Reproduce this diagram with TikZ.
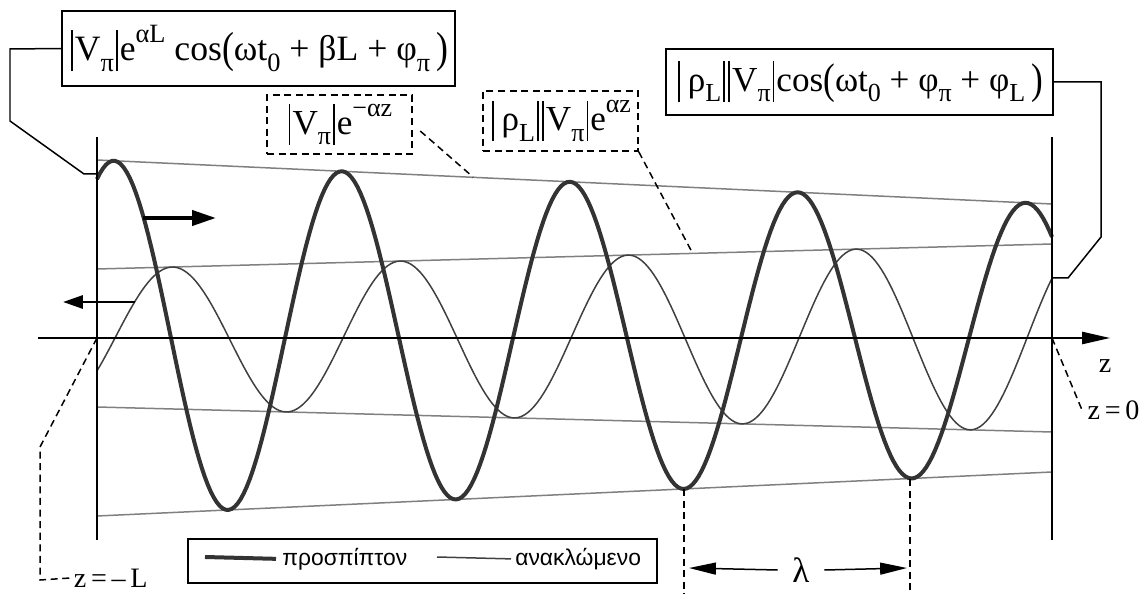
\documentclass[tikz,border=0pt]{standalone}
\usepackage{fontspec}
\usepackage{graphicx}
\setmainfont{Liberation Serif}
\newfontfamily\legendfont{Liberation Sans}
\usetikzlibrary{arrows.meta}

% tall bars, stretched brackets and index placement for the labels
\newcommand{\vbar}{\kern0.06em\rule[-0.3em]{0.045em}{1.15em}\kern0.06em}
\newcommand{\lbrk}{\raisebox{-0.06em}{\scalebox{1}[1.22]{(}}}
\newcommand{\rbrk}{\raisebox{-0.06em}{\scalebox{1}[1.22]{)}}}
\newcommand{\subx}[1]{\raisebox{-0.3em}{\scalebox{0.74}{#1}}}
\newcommand{\supx}[1]{\raisebox{0.5em}{\scalebox{0.74}{#1}}}

\begin{document}
\begin{tikzpicture}[x=0.02cm, y=-0.02cm,
    every node/.style={font=\fontsize{20}{24}\selectfont},
    envline/.style={black!50, line width=0.03cm},
    incwave/.style={black!80, line width=0.08cm},
    refwave/.style={black!75, line width=0.03cm},
    thinline/.style={black, line width=0.03cm},
    labbox/.style={draw, line width=0.03cm, inner sep=0pt},
    dashbox/.style={labbox, dash pattern=on 4pt off 2.6pt},
    lead/.style={black, line width=0.03cm},
    dlead/.style={black, line width=0.03cm, dash pattern=on 4pt off 2.6pt},
    endlab/.style={font=\fontsize{16}{19}\selectfont}]
    \useasboundingbox (0,0) rectangle (1146,594);

    % --- envelopes ------------------------------------------------------
    \draw[envline] (97,160) -- (1052,204);
    \draw[envline] (97,516) -- (1052,472);
    \draw[envline] (97,269) -- (1052,244);
    \draw[envline] (97,407) -- (1052,432);

    % --- the two waves --------------------------------------------------
    \draw[refwave] plot[domain=97:1052, samples=320]
      (\x, {338 - (69 + 0.02618*(\x-97))*cos((\x-172)/228*360)});
    \draw[incwave] plot[domain=97:1052, samples=320]
      (\x, {338 - (178 - 0.04607*(\x-97))*cos((\x-114)/228*360)});

    % --- line ends and z axis -------------------------------------------
    \coordinate (lend) at (97,338);
    \coordinate (rend) at (1052,338);
    \draw[thinline] (97,137) -- (97,540);
    \draw[thinline] (1052,137) -- (1052,540);
    \draw[thinline, -{Triangle[length=15.9pt, width=7pt]}] (38,338) -- (1110,338);
    \node[endlab] (zax) at (1105,366) {z};

    % travelling directions
    \draw[black, line width=0.08cm, -{Triangle[length=13.6pt, width=8.5pt]}]
      (143,218) -- (216,218);
    \draw[black, line width=0.055cm, -{Triangle[length=11.3pt, width=7.4pt]}]
      (135,302) -- (63,302);

    % --- labels -----------------------------------------------------------
    \node[labbox, minimum width=7.86cm, minimum height=1.5cm,
          font=\fontsize{20.3}{24}\selectfont] (ampin) at (258.5,48.5)
      {\vbar V\subx{π}\vbar e\supx{αL} cos\lbrk ωt\subx{0} + βL + φ\subx{π}\,\rbrk};
    \coordinate (ka) at (10,49);
    \coordinate (kb) at (10,121);
    \coordinate (kc) at (84,174);
    \coordinate (kd) at (97,174);
    \draw[lead] (ampin.west) -- (ka) -- (kb) -- (kc) -- (kd);

    \node[dashbox, minimum width=2.9cm, minimum height=1.18cm] (envin) at (339.5,124.5)
      {\vbar V\subx{π}\vbar e\supx{−αz}};
    \coordinate (ein) at (473,177);
    \draw[dlead, shorten <=0.2cm] (envin.east) -- (ein);

    \node[dashbox, minimum width=3.1cm, minimum height=1.2cm] (envref) at (560.5,121)
      {\vbar\,ρ\subx{L}\vbar\kern-0.02em\vbar V\subx{π}\vbar e\supx{αz}};
    \coordinate (eref) at (693,254);
    \draw[dlead] (envref.south east) -- (eref);

    \node[labbox, minimum width=7.74cm, minimum height=1.32cm] (ampref) at (859.5,82)
      {\vbar\,ρ\subx{L}\vbar\kern-0.02em\vbar V\subx{π}\vbar cos\lbrk ωt\subx{0} + φ\subx{π} + φ\subx{L}\,\rbrk};
    \coordinate (ma) at (1101,82);
    \coordinate (mb) at (1101,237);
    \coordinate (mc) at (1068,278);
    \coordinate (md) at (1052,278);
    \draw[lead] (ampref.east) -- (ma) -- (mb) -- (mc) -- (md);

    % --- ends of the line ---------------------------------------------------
    \node[endlab, anchor=west, inner sep=2pt] (zmL) at (70,578) {z\,=\,–\,L};
    \coordinate (la) at (40,447);
    \coordinate (lb) at (40,580);
    \draw[dlead] (lend) -- (la) -- (lb) -- (zmL.west);

    \node[endlab, anchor=west, inner sep=3pt] (z0) at (1082,410) {z\,=\,0};
    \draw[dlead] (rend) -- (z0.west);

    % --- wavelength -----------------------------------------------------
    \coordinate (tra) at (684,489);
    \coordinate (trb) at (910,479);
    \coordinate (tra2) at (684,594);
    \coordinate (trb2) at (910,594);
    \draw[dlead] (tra) -- (tra2);
    \draw[dlead] (trb) -- (trb2);
    \node[minimum width=0.92cm, inner sep=0pt] (lam) at (801,570) {λ};
    \coordinate (la1) at (689,568);
    \coordinate (la2) at (907,568);
    \draw[lead, -{Triangle[length=15.3pt, width=6.8pt]}] (lam.west) -- (la1);
    \draw[lead, -{Triangle[length=15.3pt, width=6.8pt]}] (lam.east) -- (la2);

    % --- legend ---------------------------------------------------------
    \node[labbox, minimum width=9.38cm, minimum height=0.88cm] (legend) at (422.5,561) {};
    \node[anchor=west, inner sep=0pt, font=\legendfont\fontsize{13}{15}\selectfont]
      (inclab) at (282,559) {προσπίπτον};
    \node[anchor=west, inner sep=0pt, font=\legendfont\fontsize{13}{15}\selectfont]
      (reflab) at (515,559) {ανακλώμενο};
    \coordinate (sa) at (205,557);
    \coordinate (sb) at (437,557);
    \draw[incwave, shorten >=0.12cm] (sa) -- (inclab.west);
    \draw[refwave, shorten >=0.08cm] (sb) -- (reflab.west);
  \end{tikzpicture}
\end{document}
